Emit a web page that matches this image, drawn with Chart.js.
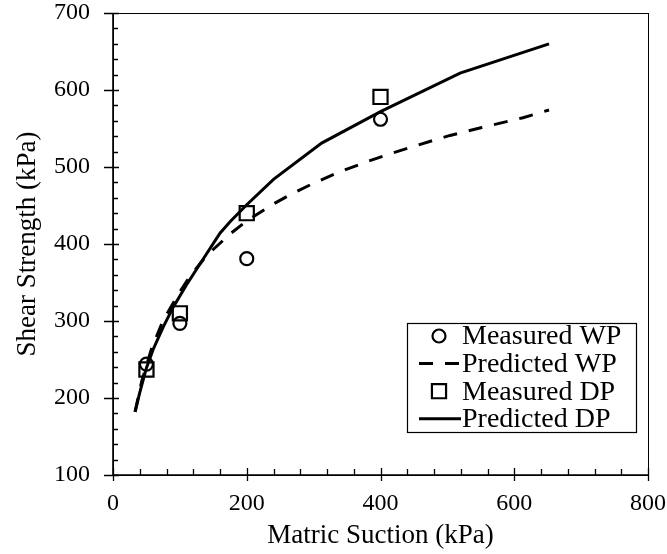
<!DOCTYPE html>
<html>
<head>
<meta charset="utf-8">
<script src="https://cdn.jsdelivr.net/npm/chart.js@4"></script>
<style>
  html, body { margin: 0; padding: 0; background: #fff; }
  #wrap { width: 667px; height: 554px; }
</style>
</head>
<body>
<div id="wrap"><canvas id="chart" width="667" height="554"></canvas></div>
<script>
// ====== DATA ======
const measuredSuction = [50, 100, 200, 400];
const measuredWP = [244, 297, 381, 562];
const measuredDP = [237, 310, 440, 591];

const predictedWPSuction = [33, 43, 58, 75, 100, 115, 140, 175, 200, 240, 265, 300, 340, 380, 414, 454, 504, 550, 613, 652];
const predictedWP = [182, 222, 265, 301, 338, 358, 385, 413, 430, 452, 464, 479, 494, 507, 517, 528, 541, 551, 564, 574];

const predictedDPSuction = [33, 40, 50, 60, 75, 90, 110, 130, 160, 175, 200, 240, 312, 400, 519, 652];
const predictedDP = [182, 207, 239, 263, 292, 318, 347, 374, 414, 429, 451, 484, 531, 572, 622, 660];

const xTickValues = [0, 200, 400, 600, 800];
const yTickValues = [100, 200, 300, 400, 500, 600, 700];
const xMinorStep = 40;
const yMinorStep = 20;

const FONT = "'Liberation Serif', 'Times New Roman', serif";

function toPoints(xs, ys) {
  return ys.map((v, i) => ({ x: xs[i], y: v }));
}

// ====== FRAME, TICKS, LEGEND ======
const frame = {
  id: "frame",
  beforeDatasetsDraw(chart) {
    const { ctx, chartArea: a, scales } = chart;
    const x = scales.x, y = scales.y;
    ctx.save();
    ctx.strokeStyle = "#000";
    ctx.lineWidth = 1;
    ctx.strokeRect(a.left + 0.5, a.top + 0.5, a.right - a.left, a.bottom - a.top);
    ctx.lineWidth = 1.6;
    ctx.beginPath();
    ctx.moveTo(a.left, a.top);
    ctx.lineTo(a.left, a.bottom);
    ctx.lineTo(a.right, a.bottom);
    ctx.stroke();

    ctx.lineWidth = 1.3;
    ctx.beginPath();
    // y ticks
    for (let v = y.min; v <= y.max; v += yMinorStep) {
      const py = Math.round(y.getPixelForValue(v)) + 0.5;
      if (yTickValues.includes(v)) {
        ctx.moveTo(a.left - 9, py);
        ctx.lineTo(a.left + 6, py);
      } else {
        ctx.moveTo(a.left, py);
        ctx.lineTo(a.left + 5, py);
      }
    }
    // x ticks
    for (let v = x.min; v <= x.max; v += xMinorStep) {
      const px = Math.round(x.getPixelForValue(v)) + 0.5;
      if (xTickValues.includes(v)) {
        ctx.moveTo(px, a.bottom + 6);
        ctx.lineTo(px, a.bottom - 7);
      } else {
        ctx.moveTo(px, a.bottom);
        ctx.lineTo(px, a.bottom - 6);
      }
    }
    ctx.stroke();
    ctx.restore();
  },
  afterDraw(chart) {
    const { ctx } = chart;
    const box = { left: 407, top: 323, width: 229, height: 109 };
    ctx.save();
    ctx.fillStyle = "#fff";
    ctx.fillRect(box.left, box.top, box.width, box.height);
    ctx.strokeStyle = "#000";
    ctx.lineWidth = 1.2;
    ctx.strokeRect(box.left + 0.5, box.top + 0.5, box.width, box.height);

    ctx.font = "28px " + FONT;
    ctx.textBaseline = "middle";
    ctx.textAlign = "left";
    chart.data.datasets.forEach((ds, i) => {
      const cy = box.top + 13 + i * 27.6;
      ctx.strokeStyle = "#000";
      ctx.setLineDash([]);
      if (ds.showLine) {
        ctx.lineWidth = ds.borderWidth;
        ctx.setLineDash(ds.borderDash || []);
        ctx.beginPath();
        ctx.moveTo(419, cy);
        ctx.lineTo(461, cy);
        ctx.stroke();
        ctx.setLineDash([]);
      } else {
        ctx.lineWidth = ds.pointBorderWidth;
        ctx.beginPath();
        if (ds.pointStyle === "rect") {
          const s = ds.pointRadius * Math.SQRT1_2;
          ctx.rect(439 - s, cy - s, 2 * s, 2 * s);
        } else {
          ctx.arc(439, cy, ds.pointRadius, 0, Math.PI * 2);
        }
        ctx.stroke();
      }
      ctx.fillStyle = "#000";
      ctx.fillText(ds.label, 462, cy + 1);
    });
    ctx.restore();
  },
};

// ====== CHART ======
const ctx = document.getElementById("chart").getContext("2d");
new Chart(ctx, {
  type: "scatter",
  data: {
    datasets: [
      {
        label: "Measured WP",
        data: toPoints(measuredSuction, measuredWP),
        pointStyle: "circle",
        pointRadius: 6.5,
        pointBorderWidth: 2.2,
        borderColor: "#000",
        backgroundColor: "transparent",
        showLine: false,
      },
      {
        label: "Predicted WP",
        data: toPoints(predictedWPSuction, predictedWP),
        showLine: true,
        borderColor: "#000",
        borderWidth: 3,
        borderDash: [14, 12],
        pointRadius: 0,
        tension: 0,
      },
      {
        label: "Measured DP",
        data: toPoints(measuredSuction, measuredDP),
        pointStyle: "rect",
        pointRadius: 10,
        pointBorderWidth: 2.2,
        borderColor: "#000",
        backgroundColor: "transparent",
        showLine: false,
      },
      {
        label: "Predicted DP",
        data: toPoints(predictedDPSuction, predictedDP),
        showLine: true,
        borderColor: "#000",
        borderWidth: 3,
        pointRadius: 0,
        tension: 0,
      },
    ],
  },
  options: {
    responsive: false,
    animation: false,
    layout: { padding: { top: 13, right: 19, left: 0, bottom: 0 } },
    plugins: {
      legend: { display: false },
      tooltip: { enabled: false },
    },
    scales: {
      x: {
        type: "linear",
        min: 0,
        max: 800,
        afterBuildTicks: (s) => { s.ticks = xTickValues.map((v) => ({ value: v })); },
        afterFit: (s) => { s.height = 79; s.paddingLeft = 0; s.paddingRight = 0; },
        grid: { display: false },
        border: { display: false },
        ticks: { color: "#000", font: { family: FONT, size: 24 }, padding: 6, maxRotation: 0 },
        title: {
          display: true,
          text: "Matric Suction (kPa)",
          color: "#000",
          font: { family: FONT, size: 27 },
          padding: { top: 0, bottom: 2 },
        },
      },
      y: {
        type: "linear",
        min: 100,
        max: 700,
        afterBuildTicks: (s) => { s.ticks = yTickValues.map((v) => ({ value: v })); },
        afterFit: (s) => { s.width = 113; s.paddingTop = 0; s.paddingBottom = 0; },
        grid: { display: false },
        border: { display: false },
        ticks: { color: "#000", font: { family: FONT, size: 24 }, padding: 15 },
        title: {
          display: true,
          text: "Shear Strength (kPa)",
          color: "#000",
          font: { family: FONT, size: 27 },
          padding: { top: 12, bottom: 0 },
        },
      },
    },
  },
  plugins: [frame],
});
</script>
</body>
</html>
